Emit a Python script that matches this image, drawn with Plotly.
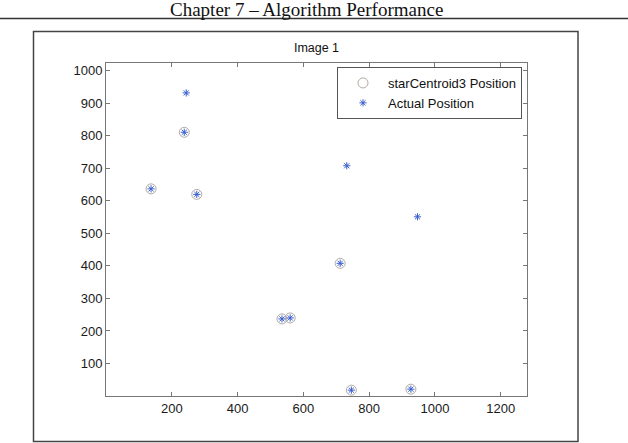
import plotly.graph_objects as go

# ---- data ----
centroid_x = [238, 137, 276, 535, 560, 712, 746, 927]
centroid_y = [811, 637, 620, 237, 240, 408, 18, 21]
actual_x = [244, 238, 137, 276, 732, 947, 712, 535, 560, 746, 927]
actual_y = [932, 811, 637, 620, 708, 551, 408, 237, 240, 18, 21]
x_ticks = [200, 400, 600, 800, 1000, 1200]
y_ticks = [100, 200, 300, 400, 500, 600, 700, 800, 900, 1000]
series_names = ["starCentroid3 Position", "Actual Position"]
title_text = "Image 1"
header_text = "Chapter 7 \u2013 Algorithm Performance"

W, H = 628, 443
L, R, T, B = 106, 527, 63, 396  # plot area in px


def px_x(p):
    return (p - L) / (R - L)


def px_y(p):
    return (B - p) / (B - T)


fig = go.Figure()
fig.add_trace(go.Scatter(
    x=centroid_x, y=centroid_y, mode="markers", name=series_names[0],
    marker=dict(symbol="circle-open", size=10, color="#b3aaa3",
                line=dict(width=1, color="#b3aaa3")),
))
fig.add_trace(go.Scatter(
    x=actual_x, y=actual_y, mode="markers", name=series_names[1],
    marker=dict(symbol="asterisk-open", size=6, color="#3a5fd0",
                line=dict(width=1, color="#3a5fd0")),
))

axis_common = dict(
    showgrid=False, zeroline=False, showline=True, linecolor="#777777",
    linewidth=1, mirror="ticks", ticks="inside", ticklen=4,
    tickcolor="#777777", tickfont=dict(family="Liberation Sans, Arial", size=13, color="#1a1a1a"),
)

fig.update_layout(
    width=W, height=H,
    margin=dict(l=L, r=W - R, t=T, b=H - B),
    paper_bgcolor="white", plot_bgcolor="white",
    showlegend=True,
    legend=dict(
        x=px_x(522), y=px_y(67), xanchor="right", yanchor="top",
        bordercolor="#555555", borderwidth=1, bgcolor="white",
        font=dict(family="Liberation Sans, Arial", size=13, color="#111111"),
        itemwidth=40, tracegroupgap=0,
    ),
    xaxis=dict(range=[0, 1280], tickvals=x_ticks, **axis_common),
    yaxis=dict(range=[0, 1024], tickvals=y_ticks, **axis_common),
    title=dict(text=title_text, x=px_x(316.5), xref="paper", xanchor="center",
               y=1 - 48 / H, yref="container", yanchor="middle",
               font=dict(family="Liberation Sans, Arial", size=12.5, color="#111111")),
)

# page header
fig.add_annotation(
    text=header_text, xref="paper", yref="paper",
    x=px_x(306), y=px_y(9.5), xanchor="center", yanchor="middle",
    showarrow=False,
    font=dict(family="Liberation Serif, Times New Roman", size=19, color="#111111"),
)
# header underline
fig.add_shape(type="line", xref="paper", yref="paper",
              x0=px_x(0), x1=px_x(628), y0=px_y(18.5), y1=px_y(18.5),
              line=dict(color="#333333", width=1.5))
# figure frame
fig.add_shape(type="rect", xref="paper", yref="paper",
              x0=px_x(33.5), x1=px_x(578), y0=px_y(441.5), y1=px_y(31.5),
              line=dict(color="#444444", width=1.5), layer="below")

fig.write_html("out.html")
